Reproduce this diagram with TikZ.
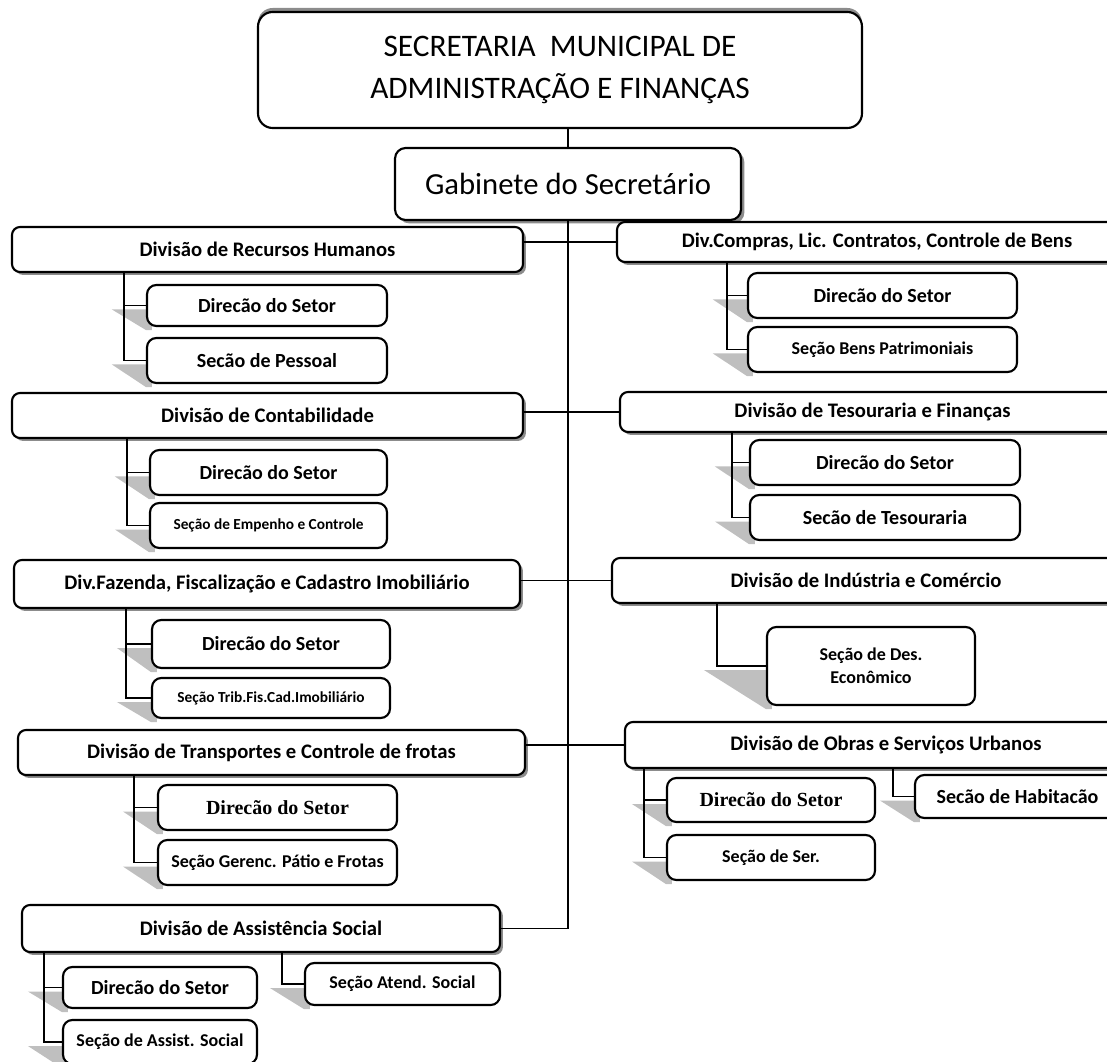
\documentclass[tikz,border=0pt]{standalone}
\usepackage{fontspec}
\setmainfont{Carlito}
\newfontfamily\timesfont{Liberation Serif}
\usetikzlibrary{calc,shadows,backgrounds}
\tikzset{
  spanbox/.style n args={4}{minimum width={(#3-#1)*0.75pt}, minimum height={(#4-#2)*0.75pt},
     at={({(#1+#3)/2},{(#2+#4)/2})}, anchor=center},
  base/.style={draw, fill=white, line width=1.6pt, inner sep=0pt, align=center},
  topbox/.style={base, rounded corners=11pt, font=\fontsize{23.5}{31}\selectfont,
     drop shadow={shadow xshift=0pt, shadow yshift=3pt, fill=black!45, opacity=1}},
  gabbox/.style={base, rounded corners=8pt, font=\fontsize{23}{26}\selectfont,
     drop shadow={shadow xshift=2.5pt, shadow yshift=-2.5pt, fill=black!45, opacity=1}},
  divbox/.style={base, rounded corners=6pt, font=\bfseries\fontsize{15.5}{18}\selectfont,
     drop shadow={shadow xshift=2.2pt, shadow yshift=-2.2pt, fill=black!45, opacity=1}},
  subbox/.style={base, rounded corners=7pt, font=\bfseries\fontsize{15}{18}\selectfont},
  smallbox/.style={subbox, font=\bfseries\fontsize{11.5}{14}\selectfont},
  midbox/.style={subbox, font=\bfseries\fontsize{13.5}{17}\selectfont},
  serifbox/.style={subbox, font=\timesfont\bfseries\fontsize{15}{18}\selectfont},
  conn/.style={line width=1.1pt},
  wshade/.style={fill=black!25},
}
\newcommand\wshadow[2]{\fill[wshade] ($(#1.west)+(-#2,4)$) -- ($(#1.west)+(6,4)$) -- ($(#1.south west)+(6,3)$) -- ($(#1.south west)+(0,3)$) -- cycle;}
\begin{document}
\begin{tikzpicture}[x=0.75pt, y=-0.75pt]
\useasboundingbox (0,0) rectangle (1107,1062);
\begin{scope}
\clip (0,0) rectangle (1107,1062);
% top
\node[topbox, spanbox={258}{12}{862}{128}] (top) {SECRETARIA\ \ MUNICIPAL DE\\ADMINISTRAÇÃO E FINANÇAS};
\node[gabbox, spanbox={395}{148}{741}{220}] (gab) {Gabinete do Secretário};
% left divisions
\node[divbox, spanbox={12}{227}{523}{272}] (rh) {Divisão de Recursos Humanos};
\node[subbox, spanbox={147}{285}{387}{326}] (rh1) {Direcão do Setor};
\node[subbox, spanbox={147}{338}{387}{383}] (rh2) {Secão de Pessoal};

\node[divbox, spanbox={12}{393}{523}{438}] (ct) {Divisão de Contabilidade};
\node[subbox, spanbox={150}{450}{387}{495}] (ct1) {Direcão do Setor};
\node[smallbox, spanbox={150}{503}{387}{548}] (ct2) {Seção de Empenho e Controle};

\node[divbox, spanbox={14}{560}{520}{608}] (fz) {Div.Fazenda, Fiscalização e Cadastro Imobiliário};
\node[subbox, spanbox={152}{620}{390}{668}] (fz1) {Direcão do Setor};
\node[smallbox, spanbox={152}{678}{390}{718}] (fz2) {Seção Trib.Fis.Cad.Imobiliário};

\node[divbox, spanbox={18}{730}{525}{775}] (tr) {Divisão de Transportes e Controle de frotas};
\node[serifbox, spanbox={158}{785}{397}{830}] (tr1) {Direcão do Setor};
\node[midbox, spanbox={158}{840}{397}{885}] (tr2) {Seção Gerenc. Pátio e Frotas};

\node[divbox, spanbox={22}{905}{500}{952}] (as) {Divisão de Assistência Social};
\node[subbox, spanbox={63}{967}{257}{1008}] (as1) {Direcão do Setor};
\node[midbox, spanbox={63}{1020}{257}{1064}] (as2) {Seção de Assist. Social};
\node[midbox, spanbox={305}{963}{500}{1005}] (as3) {Seção Atend. Social};
% right divisions
\node[divbox, spanbox={617}{222}{1137}{262}] (cm) {Div.Compras, Lic. Contratos, Controle de Bens};
\node[subbox, spanbox={748}{273}{1017}{318}] (cm1) {Direcão do Setor};
\node[midbox, spanbox={748}{327}{1017}{372}] (cm2) {Seção Bens Patrimoniais};

\node[divbox, spanbox={620}{392}{1125}{432}] (ts) {Divisão de Tesouraria e Finanças};
\node[subbox, spanbox={750}{440}{1020}{485}] (ts1) {Direcão do Setor};
\node[subbox, spanbox={750}{495}{1020}{540}] (ts2) {Secão de Tesouraria};

\node[divbox, spanbox={612}{558}{1120}{603}] (in) {Divisão de Indústria e Comércio};
\node[midbox, spanbox={767}{627}{975}{705}] (in1) {Seção de Des.\\Econômico};

\node[divbox, spanbox={625}{722}{1147}{768}] (ob) {Divisão de Obras e Serviços Urbanos};
\node[serifbox, spanbox={667}{778}{875}{822}] (ob1) {Direcão do Setor};
\node[midbox, spanbox={667}{835}{875}{880}] (ob2) {Seção de Ser.};
\node[subbox, spanbox={915}{775}{1120}{818}] (ob3) {Secão de Habitacão};

% connectors
\draw[conn] (gab.north) -- (gab.north |- top.south);
\draw[conn] (gab.south) |- (as.east);
\draw[conn] (rh.east |- cm.west) -- (cm.west);
\draw[conn] (ct.east |- ts.west) -- (ts.west);
\draw[conn] (fz.east |- in.west) -- (in.west);
\draw[conn] (tr.east |- ob.west) -- (ob.west);

\draw[conn] ($(rh.south west)+(113,0)$) |- (rh1.west);
\draw[conn] ($(rh.south west)+(113,0)$) |- (rh2.west);
\draw[conn] ($(ct.south west)+(116,0)$) |- (ct1.west);
\draw[conn] ($(ct.south west)+(116,0)$) |- (ct2.west);
\draw[conn] ($(fz.south west)+(113,0)$) |- (fz1.west);
\draw[conn] ($(fz.south west)+(113,0)$) |- (fz2.west);
\draw[conn] ($(tr.south west)+(117,0)$) |- (tr1.west);
\draw[conn] ($(tr.south west)+(117,0)$) |- (tr2.west);
\draw[conn] ($(as.south west)+(23,0)$) |- (as1.west);
\draw[conn] ($(as.south west)+(23,0)$) |- (as2.west);
\draw[conn] ($(as.south west)+(261,0)$) |- (as3.west);

\draw[conn] ($(cm.south west)+(111,0)$) |- (cm1.west);
\draw[conn] ($(cm.south west)+(111,0)$) |- (cm2.west);
\draw[conn] ($(ts.south west)+(113,0)$) |- (ts1.west);
\draw[conn] ($(ts.south west)+(113,0)$) |- (ts2.west);
\draw[conn] ($(in.south west)+(106,0)$) |- (in1.west);
\draw[conn] ($(ob.south west)+(20,0)$) |- (ob1.west);
\draw[conn] ($(ob.south west)+(20,0)$) |- (ob2.west);
\draw[conn] ($(ob.south west)+(269,0)$) |- (ob3.west);
\end{scope}
\begin{scope}[on background layer]
\clip (0,0) rectangle (1107,1062);
\wshadow{rh1}{34}\wshadow{rh2}{34}
\wshadow{ct1}{34}\wshadow{ct2}{34}
\wshadow{fz1}{34}\wshadow{fz2}{34}
\wshadow{tr1}{34}\wshadow{tr2}{34}
\wshadow{as1}{34}\wshadow{as2}{34}\wshadow{as3}{34}
\wshadow{cm1}{34}\wshadow{cm2}{34}
\wshadow{ts1}{34}\wshadow{ts2}{34}
\wshadow{in1}{62}
\wshadow{ob1}{34}\wshadow{ob2}{34}\wshadow{ob3}{34}
\end{scope}
\end{tikzpicture}
\end{document}
